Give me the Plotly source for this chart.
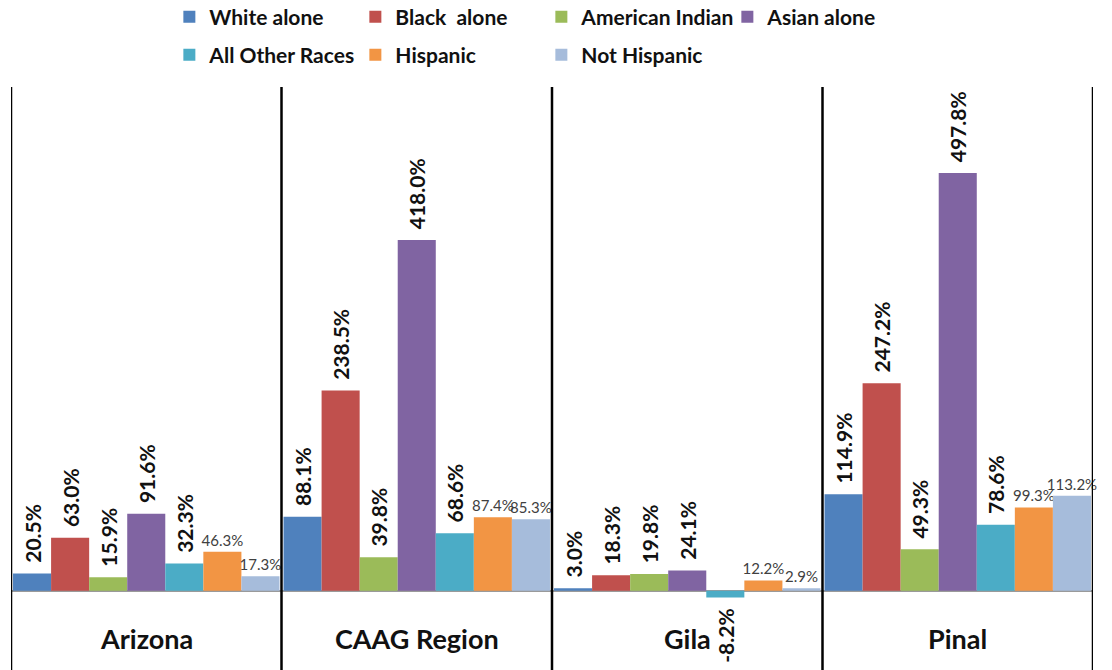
import plotly.graph_objects as go

categories = ["Arizona", "CAAG Region", "Gila", "Pinal"]
series_names = ["White alone", "Black  alone", "American Indian", "Asian alone",
                "All Other Races", "Hispanic", "Not Hispanic"]
white_alone = [20.5, 88.1, 3.0, 114.9]
black_alone = [63.0, 238.5, 18.3, 247.2]
american_indian = [15.9, 39.8, 19.8, 49.3]
asian_alone = [91.6, 418.0, 24.1, 497.8]
all_other_races = [32.3, 68.6, -8.2, 78.6]
hispanic = [46.3, 87.4, 12.2, 99.3]
not_hispanic = [17.3, 85.3, 2.9, 113.2]

series_values = [white_alone, black_alone, american_indian, asian_alone,
                 all_other_races, hispanic, not_hispanic]
colors = ["#4F81BD", "#C0504D", "#9BBB59", "#8064A2", "#4BACC6", "#F29544", "#A6BCDB"]
rotated = [True, True, True, True, True, False, False]
legend_ids = ["legend", "legend", "legend", "legend", "legend2", "legend2", "legend2"]

FONT = "Lato"
NB = "\u00a0"
TS = "\u2009"

fig = go.Figure()
for name, vals, col, rot, lg in zip(series_names, series_values, colors, rotated, legend_ids):
    if rot:
        texts = [(NB + TS + f"{v:.1f}%") if v >= 0 else (f"{v:.1f}%" + NB + TS) for v in vals]
        tf = dict(family=FONT, size=21, color="#111111", weight="bold")
        ta = -90
    else:
        texts = [f"{v:.1f}%" for v in vals]
        tf = dict(family=FONT, size=15, color="#404040")
        ta = 0
    fig.add_trace(go.Bar(
        x=categories, y=vals, name=name, marker=dict(color=col, line=dict(width=0)),
        text=texts, textposition="outside", textangle=ta, textfont=tf,
        cliponaxis=False, constraintext="none", legend=lg,
        hoverinfo="skip",
    ))

# dividers between categories
for i in range(len(categories) + 1):
    fig.add_shape(type="line", xref="x", yref="paper", x0=i - 0.5, x1=i - 0.5,
                  y0=0, y1=1, line=dict(color="#000000", width=2.5), layer="above")

# category labels below zero
for c in categories:
    fig.add_annotation(x=c, y=-56.4, xref="x", yref="y", text=f"<b>{c}</b>",
                       showarrow=False, font=dict(family=FONT, size=27, color="#111111"))

legend_font = dict(family=FONT, size=21, color="#111111", weight="bold")
fig.update_layout(
    width=1112, height=670,
    margin=dict(l=11, r=19, t=87, b=0),
    paper_bgcolor="white", plot_bgcolor="white",
    barmode="group", bargap=0.015, bargroupgap=0,
    showlegend=True,
    legend=dict(orientation="h", xref="container", yref="container",
                x=0.1523, y=1 - 17 / 670, xanchor="left", yanchor="middle",
                entrywidth=141, font=legend_font, traceorder="normal"),
    legend2=dict(orientation="h", xref="container", yref="container",
                 x=0.1523, y=1 - 55 / 670, xanchor="left", yanchor="middle",
                 entrywidth=141, font=legend_font, traceorder="normal"),
    xaxis=dict(range=[-0.5, 3.5], showticklabels=False, showgrid=False,
               zeroline=False, showline=False, ticks=""),
    yaxis=dict(range=[-94.5, 600.3], showticklabels=False, showgrid=False,
               zeroline=True, zerolinecolor="#9a9a9a", zerolinewidth=2,
               showline=False, ticks=""),
)

fig.write_html("out.html")
